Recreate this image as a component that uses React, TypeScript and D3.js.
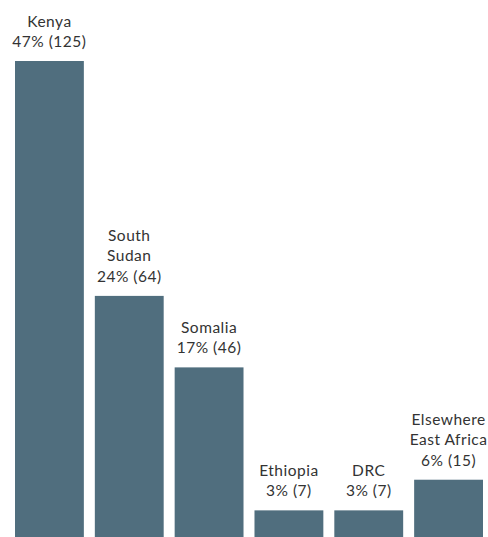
import React from "react";
import * as d3 from "d3";

const categories: string[][] = [
  ["Kenya"],
  ["South", "Sudan"],
  ["Somalia"],
  ["Ethiopia"],
  ["DRC"],
  ["Elsewhere", "East Africa"],
];
const percents = [47, 24, 17, 3, 3, 6];
const counts = [125, 64, 46, 7, 7, 15];

const W = 488;
const H = 537;

export default function App() {
  const x = d3
    .scaleBand<number>()
    .domain(d3.range(categories.length))
    .range([15, 483])
    .paddingInner(11 / 80)
    .paddingOuter(0);
  const y = d3.scaleLinear().domain([0, 47]).range([541, 61]);
  const lineH = 20.5;
  return (
    <svg
      width={W}
      height={H}
      style={{ position: "absolute", left: 0, top: 0, background: "#fff" }}
    >
      {categories.map((lines, i) => {
        const x0 = x(i)!;
        const top = y(percents[i]);
        const cx = x0 + x.bandwidth() / 2;
        const all = [...lines, `${percents[i]}% (${counts[i]})`];
        return (
          <g key={i}>
            <rect
              x={x0}
              y={top}
              width={x.bandwidth()}
              height={y(0) - top}
              fill="#506e7e"
            />
            {all.map((t, j) => (
              <text
                key={j}
                x={cx}
                y={top - 14 - (all.length - 1 - j) * lineH}
                textAnchor="middle"
                fontFamily="Lato, sans-serif"
                fontSize={15.5}
                letterSpacing={0.5}
                fill="#333"
              >
                {t}
              </text>
            ))}
          </g>
        );
      })}
    </svg>
  );
}
